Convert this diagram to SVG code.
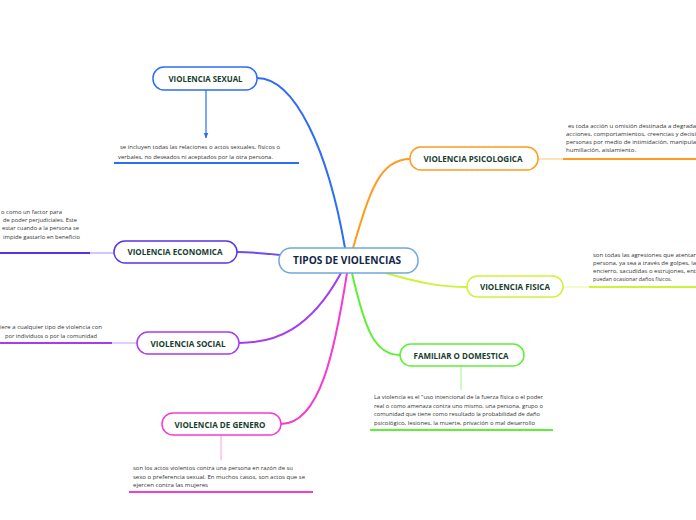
<svg xmlns="http://www.w3.org/2000/svg" width="696" height="520" viewBox="0 0 696 520">
<style>
.lbl{font-family:"Open Sans","Noto Sans",sans-serif;font-weight:bold;font-size:8.2px;fill:#17402f;text-anchor:middle}
.ctr{font-family:"Open Sans","Noto Sans",sans-serif;font-weight:bold;font-size:10px;fill:#142748;text-anchor:middle}
.txt{font-family:"Open Sans","Noto Sans",sans-serif;font-size:5.8px;fill:#333}
.box{fill:#fff;stroke-width:1.5}
.con{fill:none;stroke-width:2;stroke-linecap:round}
</style>
<defs>
<marker id="arr" viewBox="0 0 10 10" refX="9" refY="5" markerWidth="5" markerHeight="5" orient="auto">
<path d="M0,1 L10,5 L0,9 z" fill="#2d6cf6"/>
</marker>
</defs>
<rect width="696" height="520" fill="#fff"/>
<g id="connectors">
<path class="con" d="M345,248 C328,150 295,78 257,78" stroke="#2d6cf6"/>
<path class="con" d="M353,248 C370,190 380,159 410,159" stroke="#ff9b1f"/>
<path class="con" d="M280,255 C262,253 250,252 237,252" stroke="#6a4cf0" stroke-width="1.6"/>
<path class="con" d="M341,273 C310,330 275,343 239,343" stroke="#a43cf2"/>
<path class="con" d="M347,273 C335,350 320,424 281,424" stroke="#f43ccf"/>
<path class="con" d="M352,273 C365,330 375,355 400,355" stroke="#5ef036"/>
<path class="con" d="M382,272 C420,283 440,287 467,287" stroke="#cdf23a"/>
<line x1="206" y1="90" x2="206" y2="138" stroke="#2d6cf6" stroke-width="1.2" marker-end="url(#arr)"/>
<line x1="461" y1="366" x2="461" y2="390" stroke="#b8f0a8" stroke-width="1.2"/>
<line x1="221" y1="435" x2="221" y2="460" stroke="#f7b0e6" stroke-width="1.2"/>
<line x1="538" y1="159" x2="563" y2="159" stroke="#ffcf8f" stroke-width="1.2"/>
<line x1="563" y1="159" x2="696" y2="159" stroke="#ff9b1f" stroke-width="2"/>
<line x1="563" y1="287" x2="589" y2="287" stroke="#e8f9a8" stroke-width="1.2"/>
<line x1="589" y1="287" x2="696" y2="287" stroke="#cdf23a" stroke-width="2"/>
<line x1="90" y1="253" x2="114" y2="253" stroke="#b0a4f5" stroke-width="1.2"/>
<line x1="0" y1="253" x2="90" y2="253" stroke="#5a32e6" stroke-width="2"/>
<line x1="112" y1="343" x2="137" y2="343" stroke="#d9a8f7" stroke-width="1.2"/>
<line x1="0" y1="343" x2="112" y2="343" stroke="#a43cf2" stroke-width="2"/>
<line x1="114" y1="163" x2="299" y2="163" stroke="#2d6cf6" stroke-width="2"/>
<line x1="129" y1="492" x2="313" y2="492" stroke="#f43ccf" stroke-width="2"/>
<line x1="370" y1="430" x2="553" y2="430" stroke="#5ef036" stroke-width="2"/>
</g>
<g id="center">
<rect class="box" x="279" y="248" width="139" height="25" rx="12" stroke="#6fa8dc"/>
<text class="ctr" x="347" y="264" textLength="108" lengthAdjust="spacingAndGlyphs">TIPOS DE VIOLENCIAS</text>
</g>
<g id="sexual">
<rect class="box" x="153" y="67" width="104" height="23" rx="11" stroke="#2d6cf6"/>
<text class="lbl" x="205.5" y="81.5" textLength="74" lengthAdjust="spacingAndGlyphs">VIOLENCIA SEXUAL</text>
<text class="txt" x="120" y="149" textLength="160" lengthAdjust="spacingAndGlyphs">se incluyen todas las relaciones o actos sexuales, físicos o</text>
<text class="txt" x="118" y="158.5" textLength="155" lengthAdjust="spacingAndGlyphs">verbales, no deseados ni aceptados por la otra persona.</text>
</g>
<g id="economica">
<rect class="box" x="114" y="241" width="123" height="22" rx="11" stroke="#5a32e6"/>
<text class="lbl" x="175" y="255" textLength="95" lengthAdjust="spacingAndGlyphs">VIOLENCIA ECONOMICA</text>
<text class="txt" x="1" y="214" textLength="61" lengthAdjust="spacingAndGlyphs">o como un factor para</text>
<text class="txt" x="3" y="222" textLength="74" lengthAdjust="spacingAndGlyphs">de poder perjudiciales. Este</text>
<text class="txt" x="2" y="230" textLength="77" lengthAdjust="spacingAndGlyphs">estar cuando a la persona se</text>
<text class="txt" x="3" y="238.5" textLength="77" lengthAdjust="spacingAndGlyphs">impide gastarlo en beneficio</text>
</g>
<g id="social">
<rect class="box" x="137" y="332" width="102" height="22" rx="11" stroke="#a43cf2"/>
<text class="lbl" x="188" y="346.5" textLength="75" lengthAdjust="spacingAndGlyphs">VIOLENCIA SOCIAL</text>
<text class="txt" x="0" y="329" textLength="102" lengthAdjust="spacingAndGlyphs">iere a cualquier tipo de violencia con</text>
<text class="txt" x="5" y="338" textLength="92" lengthAdjust="spacingAndGlyphs">por individuos o por la comunidad</text>
</g>
<g id="genero">
<rect class="box" x="162" y="413" width="119" height="22" rx="11" stroke="#f43ccf"/>
<text class="lbl" x="220" y="427.5" textLength="91" lengthAdjust="spacingAndGlyphs">VIOLENCIA DE GENERO</text>
<text class="txt" x="133" y="470" textLength="160" lengthAdjust="spacingAndGlyphs">son los actos violentos contra una persona en razón de su</text>
<text class="txt" x="133" y="478.5" textLength="172" lengthAdjust="spacingAndGlyphs">sexo o preferencia sexual. En muchos casos, son actos que se</text>
<text class="txt" x="133" y="487" textLength="75" lengthAdjust="spacingAndGlyphs">ejercen contra las mujeres</text>
</g>
<g id="psicologica">
<rect class="box" x="410" y="147" width="128" height="23" rx="11" stroke="#ff9b1f"/>
<text class="lbl" x="473" y="162" textLength="99" lengthAdjust="spacingAndGlyphs">VIOLENCIA PSICOLOGICA</text>
<text class="txt" x="568" y="128" textLength="128" lengthAdjust="spacingAndGlyphs">es toda acción u omisión destinada a degrada</text>
<text class="txt" x="566" y="136" textLength="130" lengthAdjust="spacingAndGlyphs">acciones, comportamientos, creencias y decisi</text>
<text class="txt" x="566" y="144" textLength="130" lengthAdjust="spacingAndGlyphs">personas por medio de intimidación, manipula</text>
<text class="txt" x="566" y="151.5" textLength="70" lengthAdjust="spacingAndGlyphs">humillación, aislamiento.</text>
</g>
<g id="fisica">
<rect class="box" x="467" y="276" width="96" height="21" rx="10.5" stroke="#cdf23a"/>
<text class="lbl" x="515" y="289.5" textLength="70" lengthAdjust="spacingAndGlyphs">VIOLENCIA FISICA</text>
<text class="txt" x="593" y="257" textLength="103" lengthAdjust="spacingAndGlyphs">son todas las agresiones que atentar</text>
<text class="txt" x="593" y="265" textLength="103" lengthAdjust="spacingAndGlyphs">persona, ya sea a través de golpes, la</text>
<text class="txt" x="593" y="273" textLength="103" lengthAdjust="spacingAndGlyphs">encierro, sacudidas o estrujones, ent</text>
<text class="txt" x="593" y="281" textLength="79" lengthAdjust="spacingAndGlyphs">puedan ocasionar daños físicos.</text>
</g>
<g id="familiar">
<rect class="box" x="400" y="344" width="124" height="22" rx="11" stroke="#5ef036"/>
<text class="lbl" x="461" y="358.5" textLength="95" lengthAdjust="spacingAndGlyphs">FAMILIAR O DOMESTICA</text>
<text class="txt" x="374" y="399" textLength="169" lengthAdjust="spacingAndGlyphs">La violencia es el "uso intencional de la fuerza física o el poder</text>
<text class="txt" x="374" y="407.5" textLength="169" lengthAdjust="spacingAndGlyphs">real o como amenaza contra uno mismo, una persona, grupo o</text>
<text class="txt" x="374" y="416" textLength="166" lengthAdjust="spacingAndGlyphs">comunidad que tiene como resultado la probabilidad de daño</text>
<text class="txt" x="374" y="424.5" textLength="161" lengthAdjust="spacingAndGlyphs">psicológico, lesiones, la muerte, privación o mal desarrollo</text>
</g>
</svg>
